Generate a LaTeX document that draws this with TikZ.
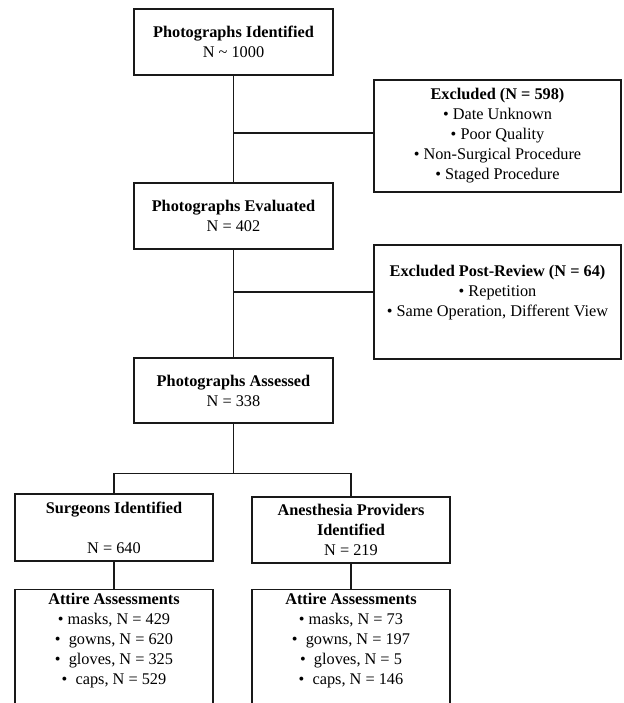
\documentclass[tikz,border=0pt]{standalone}
\usepackage{fontspec}
\setmainfont{Liberation Serif}
\usetikzlibrary{positioning,calc}

\begin{document}
\begin{tikzpicture}[
  x=1pt,y=-1pt,
  every node/.style={font=\fontsize{16.3}{20}\selectfont},
  stage/.style={draw=black!90,line width=1.3pt,minimum width=199pt,
                minimum height=66pt,align=center,inner sep=0pt},
  exclbox/.style={stage,minimum width=247pt},
  txt/.style={align=center,inner sep=0pt},
  link/.style={draw=black!90,line width=1.2pt}
]
\clip (0,0) rectangle (623,703);

\node[stage] (ident) at (233.5,42) {\textbf{Photographs Identified}\\N \textasciitilde{} 1000};
\node[exclbox,minimum height=112pt] (excl) at (497.5,136)
   {\textbf{Excluded (N = 598)}\\• Date Unknown\\• Poor Quality\\• Non-Surgical Procedure\\• Staged Procedure};
\node[stage] (eval) at (233.5,216) {\textbf{Photographs Evaluated}\\N = 402};
\node[exclbox,minimum height=114pt,
      label={[txt,yshift=9pt]center:{\textbf{Excluded Post-Review (N = 64)}\\• Repetition\\• Same Operation, Different View}}]
   (post) at (497.5,302) {};
\node[stage,minimum height=65pt] (assess) at (233.5,390.5) {\textbf{Photographs Assessed}\\N = 338};

\node[stage,minimum width=198pt,minimum height=67pt] (surg) at (114,527.5)
   {\textbf{Surgeons Identified}\\[20pt]N = 640};
\node[stage,minimum width=198pt] (anes) at (351,530)
   {\textbf{Anesthesia Providers}\\\textbf{Identified}\\N = 219};

\node[stage,minimum width=198pt,minimum height=140pt,anchor=north,
      label={[txt,anchor=north,yshift=-4pt]north:{\textbf{Attire Assessments}\\• masks, N = 429\\•\ \ gowns, N = 620\\•\ \ gloves, N = 325\\•\ \ caps, N = 529}}]
   (att1) at (114,589) {};
\node[stage,minimum width=198pt,minimum height=140pt,anchor=north,
      label={[txt,anchor=north,yshift=-4pt]north:{\textbf{Attire Assessments}\\• masks, N = 73\\•\ \ gowns, N = 197\\•\ \ gloves, N = 5\\•\ \ caps, N = 146}}]
   (att2) at (351,589) {};

% connectors
\coordinate (exclin) at ([yshift=3pt]excl.west);
\coordinate (postin) at ([yshift=10pt]post.west);
\coordinate (split) at ($(assess.south)+(0,50)$);
\draw[link] (ident) -- (eval);
\draw[link] (exclin) -- (exclin -| ident.south);
\draw[link] (eval) -- (assess);
\draw[link] (postin) -- (postin -| eval.south);
\draw[link] (assess.south) -- (split);
\draw[link] (surg.north) |- (split) -| (anes.north);
\draw[link] (surg) -- (att1);
\draw[link] (anes) -- (att2);
\end{tikzpicture}
\end{document}
